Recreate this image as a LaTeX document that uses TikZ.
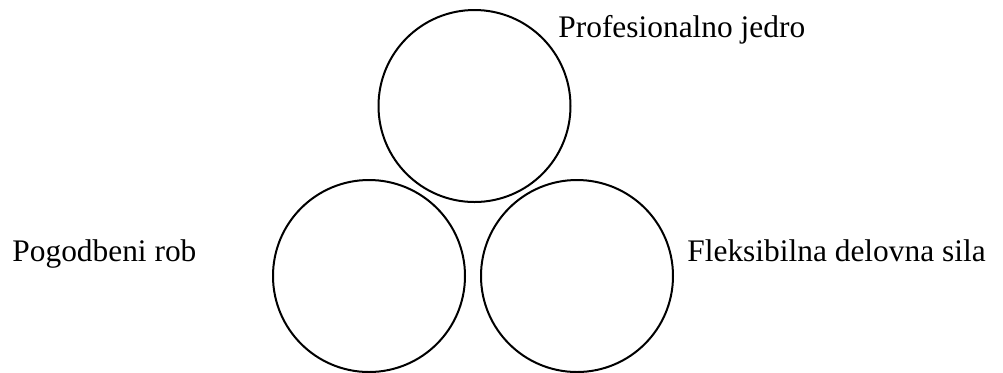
\documentclass[tikz,border=0pt]{standalone}
\usepackage{fontspec}
\setmainfont{Liberation Serif}
\begin{document}
\begin{tikzpicture}[x=0.5pt,y=-0.5pt,
  ring/.style={circle,draw=black,line width=1pt,minimum size=96pt,inner sep=0pt},
  lbl/.style={anchor=base west,inner sep=0pt,font=\fontsize{15.7pt}{18pt}\selectfont}]
\useasboundingbox (0,0) rectangle (1003,372);
\node[ring] (core) at (474.5,106) {};
\node[ring] (edge) at (369,276) {};
\node[ring] (flex) at (577,276) {};
\node[lbl] (coreL) at (558,37) {Profesionalno jedro};
\node[lbl] (edgeL) at (12,261) {Pogodbeni rob};
\node[lbl] (flexL) at (687,261) {Fleksibilna delovna sila};
\end{tikzpicture}
\end{document}
